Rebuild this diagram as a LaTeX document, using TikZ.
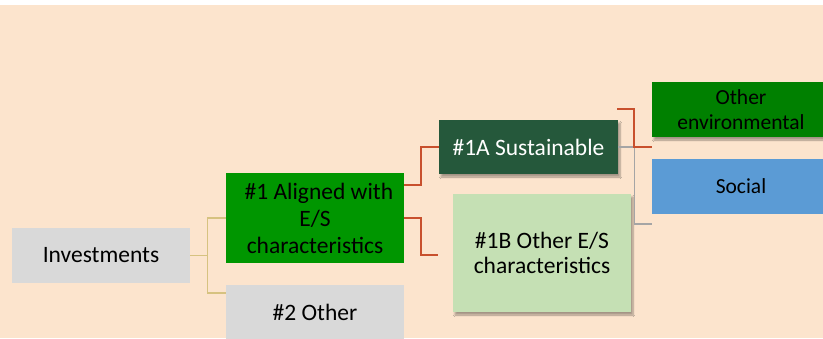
\documentclass[tikz,border=0pt]{standalone}
\usepackage{fontspec}
\setmainfont{Carlito}
\usetikzlibrary{calc,shadows.blur}

\definecolor{peach}{RGB}{252,228,205}
\definecolor{boxgray}{RGB}{217,217,217}
\definecolor{leafgreen}{RGB}{0,150,0}
\definecolor{darkgreen}{RGB}{37,88,59}
\definecolor{envgreen}{RGB}{0,128,0}
\definecolor{socblue}{RGB}{91,155,213}
\definecolor{palegreen}{RGB}{197,224,180}
\definecolor{linkred}{RGB}{200,80,45}
\definecolor{linkgray}{RGB}{165,165,165}
\definecolor{linktan}{RGB}{214,194,128}

\tikzset{
  box/.style={rectangle, inner sep=0pt, align=center, text=black,
    minimum width=178pt, font=\fontsize{23.5}{27}\selectfont},
  smallbox/.style={box, font=\fontsize{21.5}{25}\selectfont},
  shade/.style={blur shadow={shadow xshift=2pt, shadow yshift=-3pt,
    shadow blur steps=6, shadow opacity=35}},
  redlink/.style={draw=linkred, line width=1.8pt},
  graylink/.style={draw=linkgray, line width=1.4pt},
  tanlink/.style={draw=linktan, line width=1.4pt},
}

\begin{document}
\begin{tikzpicture}[x=1pt, y=-1pt]
  \useasboundingbox (0,0) rectangle (823,338);
  \clip (0,0) rectangle (823,338);
  \fill[white] (0,0) rectangle (823,338);
  \fill[peach] (0,5) rectangle (823,338);

  % tree nodes
  \node[box, fill=boxgray, minimum height=55pt] (inv) at (101,255.5) {Investments};
  \node[box, fill=leafgreen, minimum height=90pt] (al) at (315,218)
    {\,\,\#1 Aligned with\\E/S\\characteristics};
  \node[box, fill=boxgray, minimum height=55pt] (oth) at (315,312.5) {\#2 Other};
  \node[box, fill=darkgreen, text=white, minimum width=179pt, minimum height=54pt, shade]
    (sus) at (528.5,147) {\#1A Sustainable};
  \node[box, fill=palegreen, minimum height=118pt, shade, font=\fontsize{23.5}{25.5}\selectfont]
    (ob) at (542,253) {\#1B Other E/S\\characteristics};
  \node[smallbox, fill=envgreen, minimum height=55pt, shade] (env) at (741,109.5)
    {Other\\environmental};
  \node[smallbox, fill=socblue, minimum height=55pt] (soc) at (741,186.5) {Social};

  % free ends of the elbow connectors
  \coordinate (obin) at (438,255);
  \coordinate (susup) at (617,109);
  \coordinate (envin) at (652,147);
  \coordinate (socin) at (652,224);

  % investments -> categories
  \draw[tanlink] (inv.east) -- ++(17,0) |- (al.west);
  \draw[tanlink] (inv.east) -- ++(17,0) |- ($(oth.north west)+(0,8)$);

  % #1 -> sub-categories
  \draw[redlink] ($(al.north east)+(0,12)$) -- ++(17,0) |- (sus.west);
  \draw[redlink] (al.east) -- ++(17,0) |- (obin);

  % #1A -> environmental / social
  \draw[graylink] (sus.east) -- ++(16,0) |- (socin);
  \draw[redlink] (susup) -- ++(17,0) |- (envin);
\end{tikzpicture}
\end{document}
